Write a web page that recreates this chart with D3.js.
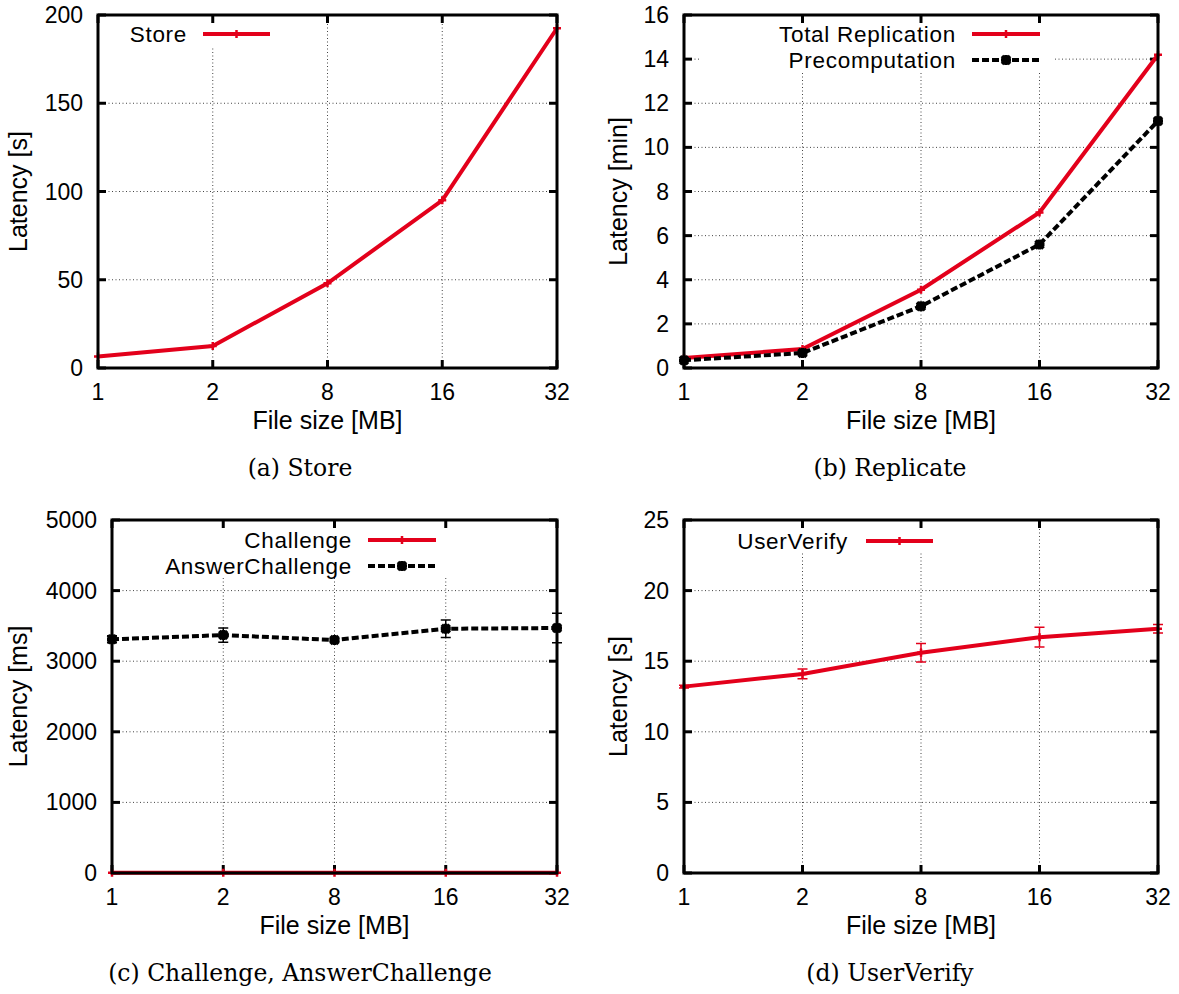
<!DOCTYPE html>
<html>
<head>
<meta charset="utf-8">
<script src="https://cdn.jsdelivr.net/npm/d3@7"></script>
<style>
  body { margin: 0; background: #fff; }
  svg text { font-family: "Liberation Sans", Arial, sans-serif; }
</style>
</head>
<body>
<svg id="chart" width="1179" height="994"></svg>
<script>
// data
const fileSizes = ["1", "2", "8", "16", "32"];

const storeLatency = [6.5, 12.5, 48, 95, 192.5];            // s
const totalReplication = [0.45, 0.86, 3.55, 7.05, 14.2];    // min
const precomputation = [0.35, 0.68, 2.8, 5.6, 11.2];        // min
const challengeLatency = [4, 4, 4, 4, 4];                   // ms
const answerChallenge = [3310, 3370, 3300, 3460, 3470];     // ms
const answerChallengeErr = [50, 100, 20, 125, 210];
const userVerify = [13.2, 14.1, 15.6, 16.7, 17.3];          // s
const userVerifyErr = [0.1, 0.35, 0.65, 0.7, 0.3];

const storeTicks = [0, 50, 100, 150, 200];
const replicateTicks = [0, 2, 4, 6, 8, 10, 12, 14, 16];
const challengeTicks = [0, 1000, 2000, 3000, 4000, 5000];
const verifyTicks = [0, 5, 10, 15, 20, 25];

const RED = "#e3001b";
const svg = d3.select("#chart");

// small red plus vs. bold black star, like gnuplot point types
function marker(sel, dash, color) {
    if (dash) {
        sel.attr("d", "M-5,0H5M0,-5V5M-4,-4L4,4M-4,4L4,-4")
            .attr("stroke", color).attr("stroke-width", 3.5).attr("fill", "none");
    } else {
        sel.attr("d", "M-4,0H4M0,-4V4")
            .attr("stroke", color).attr("stroke-width", 2.5).attr("fill", "none");
    }
}

// gnuplot-ish panel
function panel(opt) {
    var g = svg.append("g");
    var x = d3.scalePoint().domain(fileSizes).range([opt.left, opt.right]);
    var y = d3.scaleLinear().domain([opt.yTicks[0], opt.yTicks[opt.yTicks.length - 1]])
        .range([opt.bottom, opt.top]);

    // grid
    g.append("g").selectAll("line")
        .data(fileSizes.slice(1, -1))
        .enter().append("line")
        .attr("x1", d => x(d)).attr("x2", d => x(d))
        .attr("y1", opt.bottom).attr("y2", opt.top)
        .attr("stroke", "#444").attr("stroke-width", 1)
        .attr("stroke-dasharray", "1,2.5");
    g.append("g").selectAll("line")
        .data(opt.yTicks.slice(1, -1))
        .enter().append("line")
        .attr("x1", opt.left).attr("x2", opt.right)
        .attr("y1", d => y(d)).attr("y2", d => y(d))
        .attr("stroke", "#444").attr("stroke-width", 1)
        .attr("stroke-dasharray", "1,2.5");

    // legend background hides the grid
    g.append("rect")
        .attr("x", opt.key.box[0]).attr("y", opt.top + 2)
        .attr("width", opt.key.box[1] - opt.key.box[0])
        .attr("height", opt.key.box[2] - opt.top - 2)
        .attr("fill", "#fff");

    // inward ticks on all four sides
    var tl = 8;
    var ticks = g.append("g").attr("stroke", "#000").attr("stroke-width", 3);
    fileSizes.forEach(function (d) {
        ticks.append("line").attr("x1", x(d)).attr("x2", x(d)).attr("y1", opt.bottom).attr("y2", opt.bottom - tl);
        ticks.append("line").attr("x1", x(d)).attr("x2", x(d)).attr("y1", opt.top).attr("y2", opt.top + tl);
    });
    opt.yTicks.forEach(function (d) {
        ticks.append("line").attr("x1", opt.left).attr("x2", opt.left + tl).attr("y1", y(d)).attr("y2", y(d));
        ticks.append("line").attr("x1", opt.right).attr("x2", opt.right - tl).attr("y1", y(d)).attr("y2", y(d));
    });

    // tick labels
    g.append("g").selectAll("text")
        .data(fileSizes)
        .enter().append("text")
        .attr("x", d => x(d)).attr("y", opt.bottom + 32)
        .attr("text-anchor", "middle").attr("font-size", 23)
        .text(d => d);
    g.append("g").selectAll("text")
        .data(opt.yTicks)
        .enter().append("text")
        .attr("x", opt.left - 15).attr("y", d => y(d) + 8)
        .attr("text-anchor", "end").attr("font-size", 23)
        .text(d => d);

    // axis titles
    g.append("text")
        .attr("x", (opt.left + opt.right) / 2).attr("y", opt.bottom + 61)
        .attr("text-anchor", "middle").attr("font-size", 25)
        .text("File size [MB]");
    g.append("text")
        .attr("transform", "translate(" + opt.ylabX + "," + (opt.top + opt.bottom) / 2 + ") rotate(-90)")
        .attr("text-anchor", "middle").attr("font-size", 25)
        .text(opt.ylabel);

    // series
    var line = d3.line().x((d, i) => x(fileSizes[i])).y(d => y(d));
    opt.series.forEach(function (s, k) {
        var sg = g.append("g");
        if (s.err) {
            sg.selectAll(".eb")
                .data(s.values)
                .enter().append("path")
                .attr("d", function (d, i) {
                    var cx = x(fileSizes[i]), y0 = y(d - s.err[i]), y1 = y(d + s.err[i]);
                    return "M" + cx + "," + y0 + "V" + y1 + "M" + (cx - 5) + "," + y0 + "H" + (cx + 5) +
                        "M" + (cx - 5) + "," + y1 + "H" + (cx + 5);
                })
                .attr("stroke", s.color).attr("stroke-width", 1.5).attr("fill", "none");
        }
        sg.append("path")
            .datum(s.values)
            .attr("d", line)
            .attr("fill", "none")
            .attr("stroke", s.color).attr("stroke-width", 4)
            .attr("stroke-dasharray", s.dash ? "7,3" : null);
        sg.selectAll(".pt")
            .data(s.values)
            .enter().append("path")
            .attr("transform", (d, i) => "translate(" + x(fileSizes[i]) + "," + y(d) + ")")
            .call(marker, s.dash, s.color);

        // key entry
        var ky = opt.key.y + k * 26;
        g.append("text")
            .attr("x", opt.key.textEnd).attr("y", ky + 8)
            .attr("text-anchor", "end").attr("font-size", 22.5)
            .attr("letter-spacing", 0.7)
            .text(s.name);
        g.append("line")
            .attr("x1", opt.key.line[0]).attr("x2", opt.key.line[1])
            .attr("y1", ky).attr("y2", ky)
            .attr("stroke", s.color).attr("stroke-width", 4)
            .attr("stroke-dasharray", s.dash ? "7,3" : null);
        g.append("path")
            .attr("transform", "translate(" + (opt.key.line[0] + opt.key.line[1]) / 2 + "," + ky + ")")
            .call(marker, s.dash, s.color);
    });

    // border
    g.append("rect")
        .attr("x", opt.left).attr("y", opt.top)
        .attr("width", opt.right - opt.left).attr("height", opt.bottom - opt.top)
        .attr("fill", "none").attr("stroke", "#000").attr("stroke-width", 3);

    // caption
    g.append("text")
        .attr("x", opt.capX).attr("y", opt.bottom + 108)
        .attr("text-anchor", "middle").attr("font-size", 23.5)
        .style("font-family", "'DejaVu Serif', 'Liberation Serif', serif")
        .text(opt.caption);
}

panel({
    left: 98, right: 557, top: 15, bottom: 368,
    yTicks: storeTicks, ylabel: "Latency [s]", ylabX: 27,
    caption: "(a) Store", capX: 300,
    key: { y: 34, textEnd: 187, line: [203, 270], box: [115, 290, 47] },
    series: [{ name: "Store", values: storeLatency, color: RED }]
});

panel({
    left: 684, right: 1158, top: 15, bottom: 368,
    yTicks: replicateTicks, ylabel: "Latency [min]", ylabX: 627,
    caption: "(b) Replicate", capX: 890,
    key: { y: 34, textEnd: 956, line: [972, 1040], box: [700, 1055, 72] },
    series: [
        { name: "Total Replication", values: totalReplication, color: RED },
        { name: "Precomputation", values: precomputation, color: "#000", dash: true }
    ]
});

panel({
    left: 112, right: 557, top: 520, bottom: 873,
    yTicks: challengeTicks, ylabel: "Latency [ms]", ylabX: 27,
    caption: "(c) Challenge, AnswerChallenge", capX: 300,
    key: { y: 540, textEnd: 352, line: [368, 436], box: [150, 450, 578] },
    series: [
        { name: "Challenge", values: challengeLatency, color: RED },
        { name: "AnswerChallenge", values: answerChallenge, err: answerChallengeErr, color: "#000", dash: true }
    ]
});

panel({
    left: 684, right: 1158, top: 520, bottom: 873,
    yTicks: verifyTicks, ylabel: "Latency [s]", ylabX: 627,
    caption: "(d) UserVerify", capX: 890,
    key: { y: 541, textEnd: 848, line: [866, 933], box: [715, 945, 553] },
    series: [{ name: "UserVerify", values: userVerify, err: userVerifyErr, color: RED }]
});
</script>
</body>
</html>
